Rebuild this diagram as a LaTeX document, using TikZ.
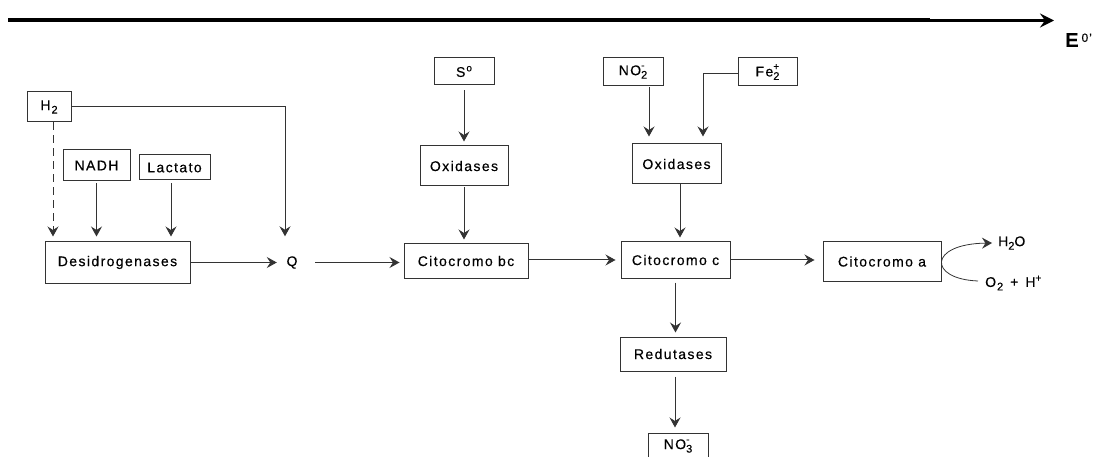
\documentclass[tikz,border=0pt]{standalone}
\usepackage{fontspec}
\setmainfont{Liberation Sans}[LetterSpace=10,FakeBold=0.35]
\usetikzlibrary{arrows.meta,calc}

% chemical sub/superscripts in the running font
\newcommand\lowsub[1]{\raisebox{-3.5pt}{\fontsize{11}{11}\selectfont #1}}
\newcommand\highsup[1]{\raisebox{5.5pt}{\fontsize{10}{10}\selectfont #1}}
\newcommand\subsup[2]{\rlap{\raisebox{6.5pt}{\fontsize{10}{10}\selectfont #2}}\raisebox{-3.5pt}{\fontsize{11}{11}\selectfont #1}}

\definecolor{linec}{HTML}{333333}

\tikzset{
  box/.style={draw=linec, line width=1pt, inner sep=0pt, align=center},
  flow/.style={draw=linec, line width=1pt, -{Stealth[length=10pt,width=11pt,inset=3.5pt]}},
  chem/.style={inner sep=0pt, anchor=west},
}

\begin{document}
\begin{tikzpicture}[x=1pt, y=-1pt, font=\fontsize{14}{16}\selectfont]
\useasboundingbox (0,0) rectangle (1098,457);
\clip (0,0) rectangle (1098,457);

% redox potential axis
\coordinate (axA) at (8,20.5);
\coordinate (axB) at (930,20.5);
\coordinate (axC) at (1054,20.5);
\draw[line width=4pt] (axA) -- (axB);
\draw[line width=3pt, -{Stealth[length=14pt,width=14pt,inset=5pt]}] (axB) -- (axC);
\node[chem] (e0) at (1065,40) {\fontsize{20}{20}\selectfont\bfseries E\kern3pt\raisebox{5pt}{\fontsize{12}{12}\selectfont\mdseries 0\kern1pt'}};

% electron donors and dehydrogenases
\node[box, minimum width=44pt, minimum height=30pt] (h2) at (49,107) {H\kern1pt\lowsub{2}};
\node[box, minimum width=67pt, minimum height=31pt] (nadh) at (96.5,165.5) {NADH};
\node[box, minimum width=71pt, minimum height=25pt] (lac) at (174.5,167.5) {Lactato};
\node[box, minimum width=145pt, minimum height=41pt] (des) at (117.5,262.5) {Desidrogenases};
\node[inner sep=0pt, minimum width=20pt, minimum height=16pt] (q) at (292,262.5) {Q};

% sulfur branch
\node[box, minimum width=60pt, minimum height=27pt] (so) at (464,71.5) {S\kern1pt\highsup{o}};
\node[box, minimum width=88pt, minimum height=40pt] (ox1) at (464,166) {Oxidases};
\node[box, minimum width=124pt, minimum height=34pt] (bc) at (466,261) {Citocromo bc};

% nitrite / iron branch
\node[box, minimum width=60pt, minimum height=28pt] (no2) at (633,72) {NO\subsup{2}{-}};
\node[box, minimum width=59pt, minimum height=28pt] (fe) at (767.5,72) {Fe\subsup{2}{+}};
\node[box, minimum width=89pt, minimum height=40pt] (ox2) at (676.5,164) {Oxidases};
\node[box, minimum width=109pt, minimum height=36pt] (cc) at (675.5,260) {Citocromo c};
\node[box, minimum width=118pt, minimum height=39pt] (ca) at (882,261.5) {Citocromo a};
\node[box, minimum width=106pt, minimum height=34pt] (red) at (673,354) {Redutases};
\node[box, minimum width=60pt, minimum height=26pt] (no3) at (678,446) {NO\subsup{3}{-}};

% terminal acceptor
\node[chem] (h2o) at (998,243) {H\lowsub{2}O};
\node[chem] (o2) at (985,283) {O\kern1pt\lowsub{2}\kern7pt+\kern7pt H\highsup{+}};

% connectors
\draw[flow, dashed, dash pattern=on 8pt off 5pt, shorten >=5pt] ([xshift=4pt]h2.south) -- ([xshift=4pt]h2.south |- des.north);
\draw[flow, shorten <=2pt, shorten >=5pt] (nadh.south) -- (nadh.south |- des.north);
\draw[flow, shorten <=3pt, shorten >=5pt] ([xshift=-3.5pt]lac.south) -- ([xshift=-3.5pt]lac.south |- des.north);
\draw[flow, shorten >=18pt] (h2.east) -| ([xshift=-7pt]q.north);
\draw[flow, shorten >=5pt] (des.east) -- (des.east -| q.west);
\draw[flow, shorten <=13pt, shorten >=4pt] (q.east) -- (q.east -| bc.west);

\draw[flow, shorten <=5pt, shorten >=4pt] (so.south) -- (ox1.north);
\draw[flow, shorten <=1pt, shorten >=4pt] (ox1.south) -- (ox1.south |- bc.north);
\draw[flow, shorten >=5pt] ([yshift=1pt]bc.east) -- ([yshift=1pt]bc.east -| cc.west);

\draw[flow, shorten <=1pt, shorten >=7pt] ([xshift=16pt]no2.south) -- ([xshift=16pt]no2.south |- ox2.north);
\draw[flow, shorten >=7pt] ([yshift=-2pt]fe.west) -| ([xshift=26.5pt]ox2.north);
\draw[flow, shorten >=4pt] ([xshift=3.5pt]ox2.south) -- ([xshift=3.5pt]ox2.south |- cc.north);
\draw[flow, shorten >=8pt] (cc.east) -- (cc.east -| ca.west);
\draw[flow, shorten <=4pt, shorten >=4pt] (cc.south) -- (cc.south |- red.north);
\draw[flow, shorten <=5pt, shorten >=5pt] ([xshift=2pt]red.south) -- ([xshift=2pt]red.south |- no3.north);

\draw[flow, line width=0.8pt] ([shift={(-7pt,2pt)}]o2.west) .. controls (928,279) and (928,244) .. ([xshift=-6pt]h2o.west);
\end{tikzpicture}
\end{document}
